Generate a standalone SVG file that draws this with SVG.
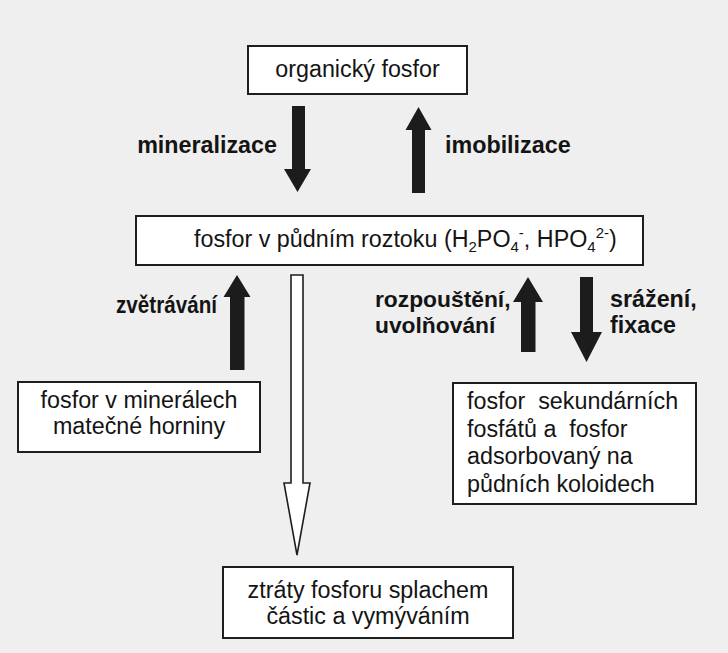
<svg xmlns="http://www.w3.org/2000/svg" width="728" height="653" viewBox="0 0 728 653">
<style>
.box{fill:#ffffff;stroke:#1e1e1e;stroke-width:2}
.t{font-family:"Liberation Sans",Arial,sans-serif;font-size:23.3px;fill:#141414}
.b{font-family:"Liberation Sans",Arial,sans-serif;font-size:23.3px;font-weight:bold;fill:#141414}
.solid{fill:#1c1c1c;stroke:none}
.hollow{fill:#ffffff;stroke:#1e1e1e;stroke-width:1.6;stroke-linejoin:miter}
</style>
<rect x="0" y="0" width="728" height="653" fill="#efefef"/>
<g id="connectors">
<path id="a-mineralizace" class="solid" d="M292,106 H305 V169 H311 L297.5,192 L284,169 H292 Z"/>
<path id="a-imobilizace" class="solid" d="M418.5,107 L431.5,130 H425 V193 H412 V130 H405.5 Z"/>
<path id="a-zvetravani" class="solid" d="M237,275 L250.5,297 H244.5 V370 H230 V297 H223.5 Z"/>
<path id="a-rozpousteni" class="solid" d="M528,277 L543,302 H535.5 V352 H521 V302 H513 Z"/>
<path id="a-srazeni" class="solid" d="M580,277 H593 V332 H602 L586.5,362 L571,332 H580 Z"/>
<path id="a-ztraty" class="hollow" d="M291,275 H303 V483 H310 L297,555 L284,483 H291 Z"/>
<text class="b" x="277" y="153" text-anchor="end">mineralizace</text>
<text class="b" x="445" y="153">imobilizace</text>
<text class="b" x="116" y="313" textLength="101" lengthAdjust="spacingAndGlyphs">zvětrávání</text>
<text class="b" x="375" y="307" style="font-size:22.8px">rozpouštění,</text>
<text class="b" x="375" y="333" style="font-size:22.8px">uvolňování</text>
<text class="b" x="610" y="307">srážení,</text>
<text class="b" x="610" y="333">fixace</text>
</g>
<g id="n-organicky">
<rect class="box" x="248" y="46" width="219" height="48"/>
<text class="t" x="357.5" y="77" text-anchor="middle">organický fosfor</text>
</g>
<g id="n-roztok">
<rect class="box" x="136" y="216" width="507" height="49"/>
<text class="t" x="194" y="247">fosfor v půdním roztoku (H<tspan font-size="15" dy="5">2</tspan><tspan dy="-5">PO</tspan><tspan font-size="15" dy="5">4</tspan><tspan font-size="15" dy="-14">-</tspan><tspan dy="9">, HPO</tspan><tspan font-size="15" dy="5">4</tspan><tspan font-size="15" dy="-14">2-</tspan><tspan dy="9">)</tspan></text>
</g>
<g id="n-mineraly">
<rect class="box" x="18" y="382" width="242" height="70"/>
<text class="t" x="139" y="408" text-anchor="middle">fosfor v minerálech</text>
<text class="t" x="139" y="434" text-anchor="middle">matečné horniny</text>
</g>
<g id="n-sekundarni">
<rect class="box" x="453" y="383" width="243" height="121"/>
<text class="t" x="467" y="409" xml:space="preserve">fosfor  sekundárních</text>
<text class="t" x="467" y="437" xml:space="preserve">fosfátů a  fosfor</text>
<text class="t" x="467" y="464">adsorbovaný na</text>
<text class="t" x="467" y="492">půdních koloidech</text>
</g>
<g id="n-ztraty">
<rect class="box" x="223" y="567" width="290" height="71"/>
<text class="t" x="368" y="598" text-anchor="middle">ztráty fosforu splachem</text>
<text class="t" x="368" y="624" text-anchor="middle">částic a vymýváním</text>
</g>
</svg>
